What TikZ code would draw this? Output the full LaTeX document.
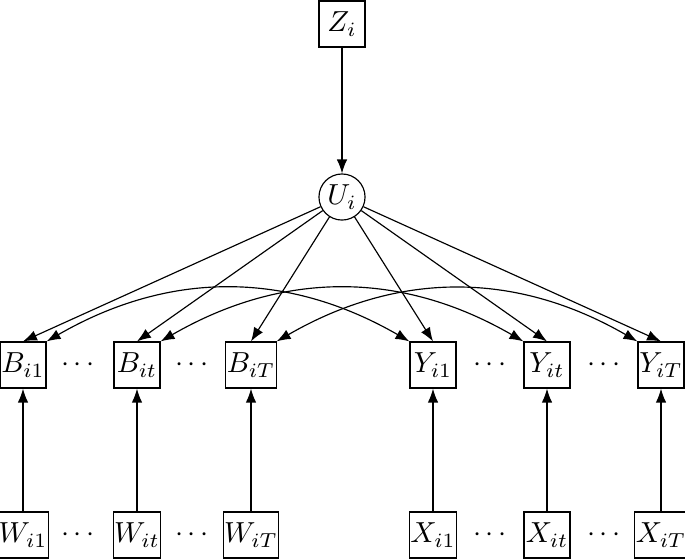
\documentclass[tikz,border=0pt]{standalone}
\usetikzlibrary{arrows.meta, positioning}

\begin{document}
\begin{tikzpicture}[
    x=0.345pt, y=-0.345pt, % pixel-like grid, y pointing down
    >=Latex, % Default arrow tip
    var/.style={draw, minimum size=15.9pt, inner sep=0.3pt}, % Observed variable
    latent/.style={draw, circle, minimum size=15.9pt, inner sep=0.5pt}, % Latent variable
    edge/.style={->} % Directed edge
]
    \useasboundingbox (0,0) rectangle (685,559);

    % Top of the graph
    \node[var] (Z) at (342,24) {$Z_i$};
    \node[latent] (U) at (342,197) {$U_i$};
    \draw[edge] (Z) -- (U);

    % Left block: B fed by W
    \foreach \n/\x in {1/23, t/137, T/251} {
        \node[var] (B\n) at (\x,365) {$B_{i\n}$};
        \node[var] (W\n) at (\x,535) {$W_{i\n}$};
        \draw[edge] (W\n) -- (B\n);
        \draw[edge] (U) -- (B\n.north);
    }

    % Right block: Y fed by X
    \foreach \n/\x in {1/433, t/547, T/661} {
        \node[var] (Y\n) at (\x,365) {$Y_{i\n}$};
        \node[var] (X\n) at (\x,535) {$X_{i\n}$};
        \draw[edge] (X\n) -- (Y\n);
        \draw[edge] (U) -- (Y\n.north);
    }

    % Dots between the nodes
    \foreach \x in {78, 192, 490, 604} {
        \node (dotsup\x) at (\x,365) {$\cdots$};
        \node (dotslow\x) at (\x,535) {$\cdots$};
    }

    % Links between B and Y at the same time
    \foreach \n in {1, t, T}
        \draw[<->] (B\n.north east) to[bend left=30] (Y\n.north west);

\end{tikzpicture}
\end{document}
